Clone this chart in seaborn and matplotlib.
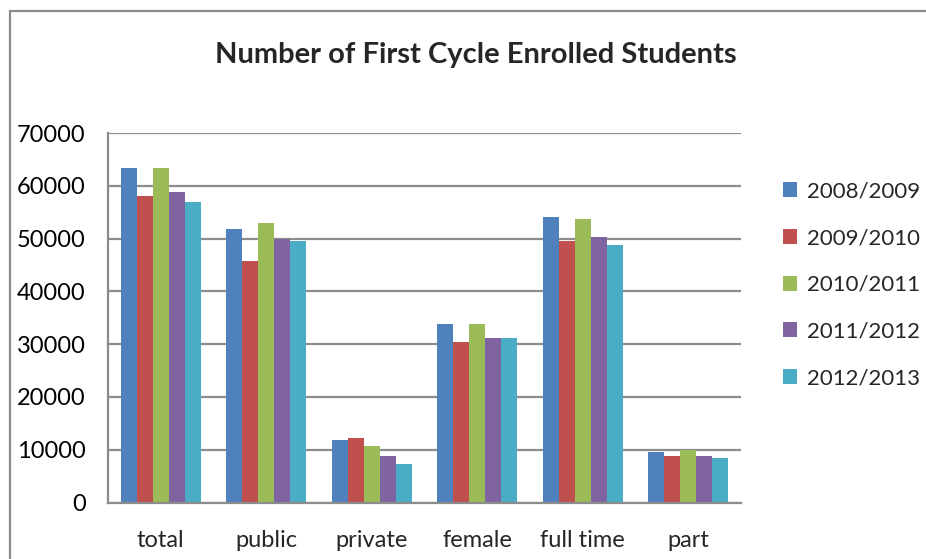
import pandas as pd
import numpy as np
import matplotlib.pyplot as plt
import seaborn as sns
from matplotlib.patches import Patch, Rectangle

sns.set_style("white")
plt.rcParams['font.family'] = ['Lato', 'DejaVu Sans']

# 데이터
categories = ['total', 'public', 'private', 'female', 'full time', 'part']
years = ['2008/2009', '2009/2010', '2010/2011', '2011/2012', '2012/2013']
v_2008 = [63300, 51800, 11850, 33800, 54050, 9550]
v_2009 = [58050, 45750, 12200, 30400, 49550, 8800]
v_2010 = [63300, 52950, 10700, 33800, 53700, 9950]
v_2011 = [58800, 49850, 8800, 31150, 50250, 8800]
v_2012 = [56900, 49450, 7300, 31150, 48750, 8350]
colors = ['#4F81BD', '#C0504D', '#9BBB59', '#8064A2', '#4BACC6']

series = [v_2008, v_2009, v_2010, v_2011, v_2012]
df = pd.DataFrame({
    'Category': categories * len(years),
    'Year': np.repeat(years, len(categories)),
    'Students': np.concatenate(series),
})

fig = plt.figure(figsize=(9.26, 5.59), dpi=100)
ax = fig.add_axes([108 / 926, 1 - 502.5 / 559, (741 - 108) / 926, (502.5 - 133) / 559])

sns.barplot(data=df, x='Category', y='Students', hue='Year', order=categories,
            hue_order=years, palette=colors, width=0.76, ax=ax,
            saturation=1, linewidth=0, legend=False)

ax.set_ylim(0, 70000)
ax.set_xlim(-0.5, len(categories) - 0.5)
ax.set_yticks(range(0, 70001, 10000))
ax.set_xlabel('')
ax.set_ylabel('')
ax.yaxis.grid(True, color='#8c8c8c', linewidth=1.6)
ax.set_axisbelow(True)
for s in ['top', 'right']:
    ax.spines[s].set_visible(False)
for s in ['left', 'bottom']:
    ax.spines[s].set_color('#8c8c8c')
    ax.spines[s].set_linewidth(1.6)

ax.tick_params(axis='y', length=6, width=1.6, color='#8c8c8c', pad=10,
               labelsize=17, labelcolor='black')
ax.tick_params(axis='x', which='major', length=0, pad=20, labelsize=17)
ax.set_xticks(np.arange(-0.5, len(categories)), minor=True)
ax.tick_params(axis='x', which='minor', length=6, width=1.6, color='#8c8c8c')

fig.text(476 / 926, 1 - 55 / 559, 'Number of First Cycle Enrolled Students',
         ha='center', va='center', fontsize=21, fontweight='bold')

handles = [Patch(facecolor=c, edgecolor='none') for c in colors]
fig.legend(handles, years, loc='center left', bbox_to_anchor=(783 / 926, 1 - 285 / 559),
           frameon=False, fontsize=16, handlelength=0.65, handleheight=0.65,
           handletextpad=0.45, labelspacing=1.2, borderpad=0, borderaxespad=0)

fig.patches.append(Rectangle((9.5 / 926, -0.1), 1.2, 1 - 11 / 559 + 0.1,
                             transform=fig.transFigure, fill=False,
                             edgecolor='#8c8c8c', linewidth=1.6))

plt.savefig('out.png', dpi=100)
